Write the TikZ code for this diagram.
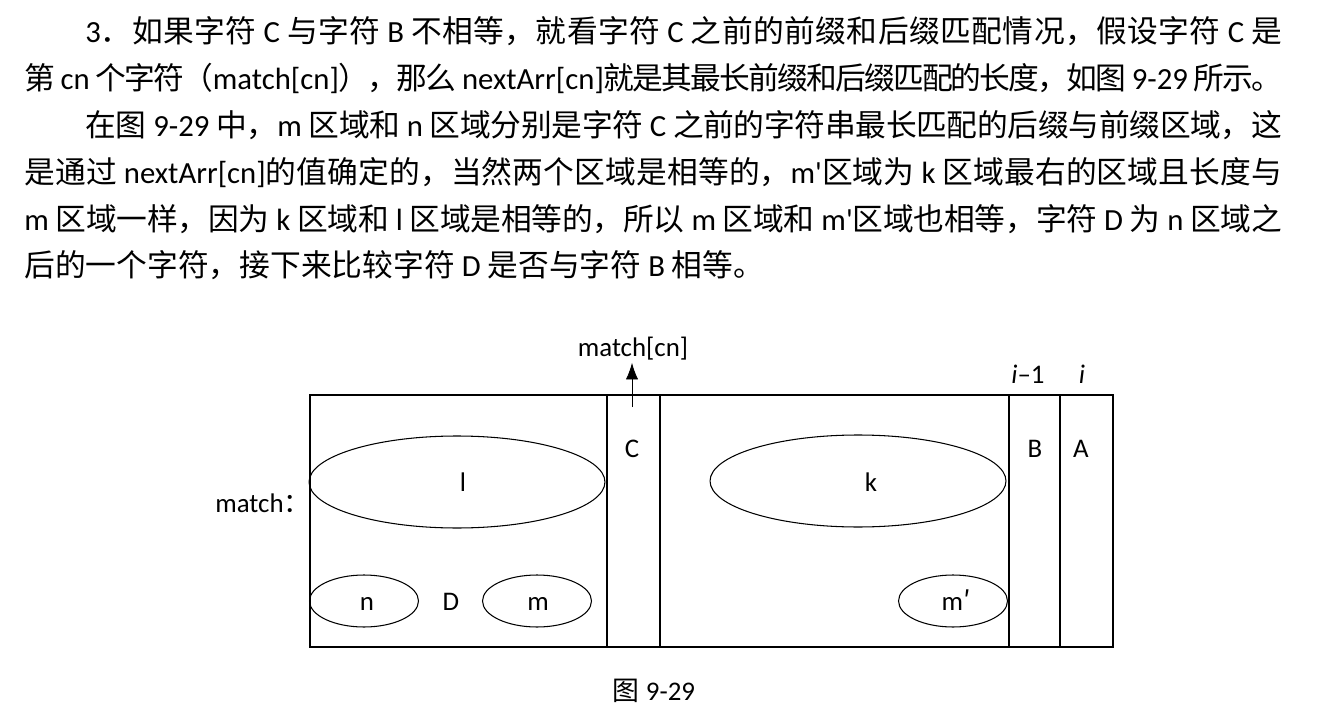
\documentclass[tikz,border=0pt]{standalone}
\usepackage{fontspec}
\setmainfont{Carlito}[Ligatures=TeXOff]
\newfontfamily\zhfont{Noto Sans CJK SC}
\newcommand{\zh}[1]{{\zhfont #1}}
% glue between CJK characters, so a line can be stretched
\newcount\cjkcnt
\cjkcnt="3000
\loop \XeTeXcharclass\cjkcnt=250 \advance\cjkcnt by 1 \ifnum\cjkcnt<"3040 \repeat
\cjkcnt="4E00
\loop \XeTeXcharclass\cjkcnt=250 \advance\cjkcnt by 1 \ifnum\cjkcnt<"A000 \repeat
\cjkcnt="FF00
\loop \XeTeXcharclass\cjkcnt=250 \advance\cjkcnt by 1 \ifnum\cjkcnt<"FFF0 \repeat
\XeTeXinterchartokenstate=1
\XeTeXinterchartoks 250 250 = {\hskip 0pt plus 0.3em minus 0.1em\relax}
\newcommand{\jline}[2]{\makebox[#1][s]{#2}}
\usetikzlibrary{arrows.meta}

\begin{document}
\begin{tikzpicture}[x=0.02cm, y=-0.02cm,
    para/.style={anchor=base west, inner sep=0pt, font=\fontsize{17.5pt}{21pt}\selectfont},
    lbl/.style={anchor=base, inner sep=0pt, font=\fontsize{15.3pt}{18pt}\selectfont}]
    \useasboundingbox (0,0) rectangle (1344,722);

    % Text
    \node[para] (line1) at (85,42.5) {\jline{23.94cm}{3\zh{．如果字符} C \zh{与字符} B \zh{不相等，就看字符} C \zh{之前的前缀和后缀匹配情况，假设字符} C \zh{是}}};
    \node[para] (line2) at (24,89.4) {\jline{25.16cm}{\zh{第} cn \zh{个字符（}match[cn]\zh{），那么} nextArr[cn]\zh{就是其最长前缀和后缀匹配的长度，如图} 9-29 \zh{所示。}}};
    \node[para] (line3) at (85,136.3) {\jline{23.94cm}{\zh{在图} 9-29 \zh{中，}m \zh{区域和} n \zh{区域分别是字符} C \zh{之前的字符串最长匹配的后缀与前缀区域，这}}};
    \node[para] (line4) at (24,183.2) {\jline{25.16cm}{\zh{是通过} nextArr[cn]\zh{的值确定的，当然两个区域是相等的，}m'\zh{区域为} k \zh{区域最右的区域且长度与}}};
    \node[para] (line5) at (24,230.1) {\jline{25.16cm}{m \zh{区域一样，因为} k \zh{区域和} l \zh{区域是相等的，所以} m \zh{区域和} m'\zh{区域也相等，字符} D \zh{为} n \zh{区域之}}};
    \node[para] (line6) at (24,277) {\zh{后的一个字符，接下来比较字符} D \zh{是否与字符} B \zh{相等。}};

    % Array
    \draw[line width=0.7pt] (310,395) rectangle (1113,647);
    \draw[line width=0.7pt] (607,395) -- (607,647);
    \draw[line width=0.7pt] (660,395) -- (660,647);
    \draw[line width=0.7pt] (1009,395) -- (1009,647);
    \draw[line width=0.7pt] (1060,395) -- (1060,647);
    \node[lbl] (colC) at (632,457) {C};
    \node[lbl] (colB) at (1035,457) {B};
    \node[lbl] (colA) at (1081,457) {A};
    \node[lbl] (im1) at (1028,383) {\textit{i}–1};
    \node[lbl] (ii) at (1082,383) {\textit{i}};
    \node[lbl, anchor=base west] (matchlbl) at (215,512) {match\zh{：}};

    % Regions
    \draw[line width=0.6pt] (457,482) ellipse [x radius=2.96cm, y radius=0.92cm];
    \node[lbl] (llbl) at (463,491) {l};
    \draw[line width=0.6pt] (858,481) ellipse [x radius=2.96cm, y radius=0.92cm];
    \node[lbl] (klbl) at (871,491) {k};
    \draw[line width=0.6pt] (364,601) ellipse [x radius=1.09cm, y radius=0.52cm];
    \node[lbl] (nlbl) at (367,610) {n};
    \node[lbl] (dlbl) at (451,610) {D};
    \draw[line width=0.6pt] (537,601) ellipse [x radius=1.09cm, y radius=0.52cm];
    \node[lbl] (mlbl) at (538,610) {m};
    \draw[line width=0.6pt] (953,601) ellipse [x radius=1.09cm, y radius=0.52cm];
    \node[lbl] (mplbl) at (956,610) {m\zh{′}};

    % Pointer to match[cn]
    \node[lbl] (matchcn) at (633,357) {match[cn]};
    \coordinate (cnfoot) at (632,407);
    \draw[line width=0.5pt, -{Latex[length=9.5pt,width=7pt]}, shorten >=1pt] (cnfoot) -- (cnfoot |- matchcn.south);

    % Caption
    \node[lbl] (caption) at (654,700) {\zh{图} 9-29};
\end{tikzpicture}
\end{document}
